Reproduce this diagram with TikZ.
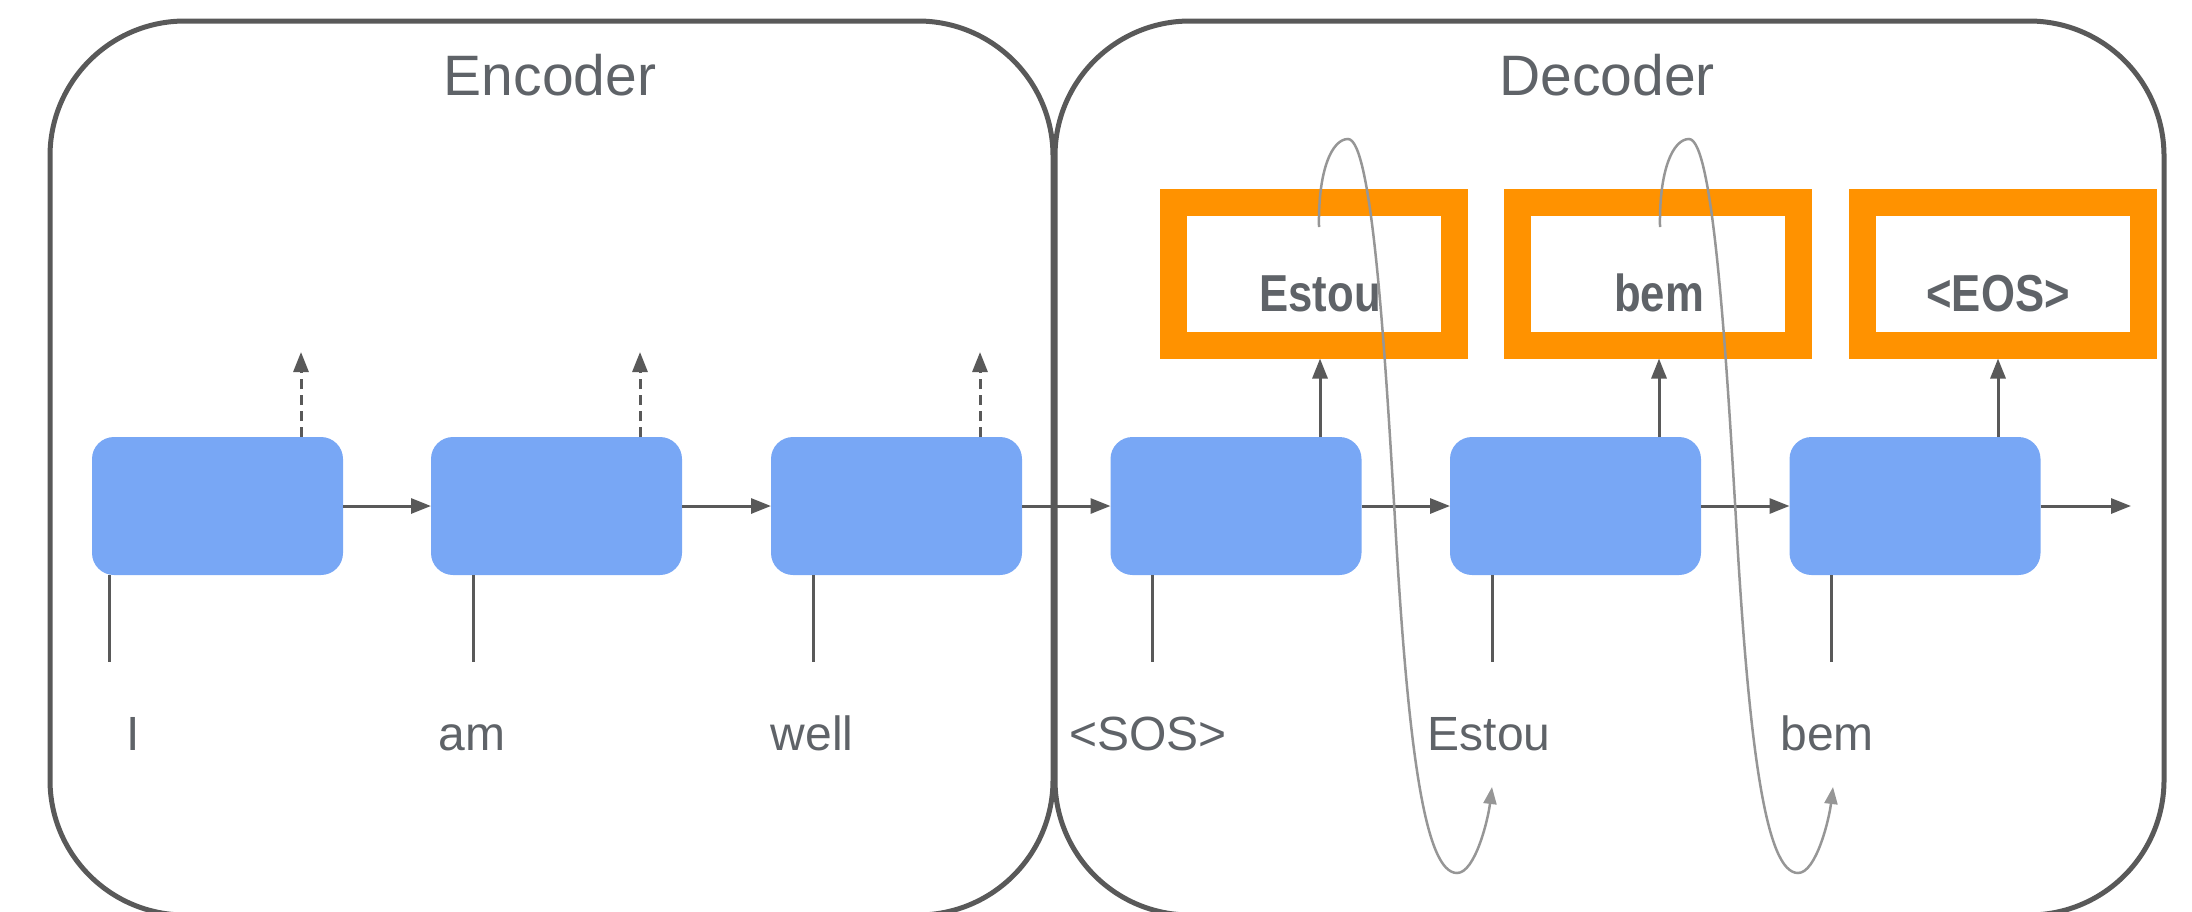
\documentclass[tikz,border=0pt]{standalone}
\usepackage{fontspec}
\setmainfont{Liberation Sans}
\newfontfamily\narrowbold{Liberation Sans}[FakeStretch=0.84]
\usetikzlibrary{arrows.meta}
\definecolor{txt}{HTML}{5F6368}
\definecolor{edge}{HTML}{595959}
\definecolor{cell}{HTML}{78A7F5}
\definecolor{orng}{HTML}{FF9200}
\definecolor{loopc}{HTML}{969696}
\begin{document}
\begin{tikzpicture}[x=1pt,y=-1pt,
  frame/.style={draw=edge, line width=5pt, rounded corners=135pt, inner sep=0pt},
  cellbox/.style={fill=cell, rounded corners=22pt, minimum width=251pt, minimum height=138pt, inner sep=0pt, outer sep=0pt},
  outbox/.style={draw=orng, line width=27pt, minimum width=281pt, minimum height=142.5pt, inner sep=0pt, outer sep=13.5pt},
  arr/.style={draw=edge, line width=3pt, -{Triangle[length=20pt,width=15pt]}},
  dasharr/.style={arr, dash pattern=on 10pt off 6pt},
  inln/.style={draw=edge, line width=3pt},
  loopline/.style={draw=loopc, line width=2.5pt, -{Triangle[length=17pt,width=13pt]}},
  hdr/.style={text=txt, font=\fontsize{57}{60}\selectfont, inner sep=0pt, anchor=base},
  lbl/.style={text=txt, font=\fontsize{48}{52}\selectfont, inner sep=0pt, anchor=base},
  blbl/.style={text=txt, font=\narrowbold\bfseries\fontsize{52}{56}\selectfont, inner sep=0pt, anchor=base}
]
\useasboundingbox (0,0) rectangle (2192,911);

% containers
\node[frame, minimum width=1003pt, minimum height=894pt] (enc) at (551.5,468) {};
\node[frame, minimum width=1109pt, minimum height=894pt] (dec) at (1609.5,468) {};
\node[hdr] (enct) at (550,95) {Encoder};
\node[hdr] (dect) at (1607,95) {Decoder};

% cells
\node[cellbox] (e1) at (217.5,506) {};
\node[cellbox] (e2) at (556.5,506) {};
\node[cellbox] (e3) at (896.5,506) {};
\node[cellbox] (d1) at (1236,506) {};
\node[cellbox] (d2) at (1575.5,506) {};
\node[cellbox] (d3) at (1915,506) {};

% recurrent arrows
\coordinate (out) at (2131,506);
\draw[arr] (e1.east) -- (e2.west);
\draw[arr] (e2.east) -- (e3.west);
\draw[arr] (e3.east) -- (d1.west);
\draw[arr] (d1.east) -- (d2.west);
\draw[arr] (d2.east) -- (d3.west);
\draw[arr] (d3.east) -- (out);

% encoder dashed outputs
\coordinate (h1) at (301,352);
\coordinate (h2) at (640,352);
\coordinate (h3) at (980,352);
\draw[dasharr] (e1.north -| h1) -- (h1);
\draw[dasharr] (e2.north -| h2) -- (h2);
\draw[dasharr] (e3.north -| h3) -- (h3);

% decoder outputs
\node[outbox] (o1) at (1314,273.75) {};
\node[outbox] (o2) at (1658,273.75) {};
\node[outbox] (o3) at (2002.5,273.75) {};
\node[blbl] (t1) at (1320,311) {Estou};
\node[blbl] (t2) at (1659,311) {bem};
\node[blbl] (t3) at (1998,311) {<EOS>};
\draw[arr] (d1.north -| t1) -- (o1.south -| t1);
\draw[arr] (d2.north -| t2) -- (o2.south -| t2);
\draw[arr] (d3.north -| t3) -- (o3.south -| t3);

% inputs
\coordinate (i1) at (109,662);
\coordinate (i2) at (473.5,662);
\coordinate (i3) at (813,662);
\coordinate (i4) at (1152,662);
\coordinate (i5) at (1492,662);
\coordinate (i6) at (1831,662);
\draw[inln] (e1.south -| i1) -- (i1);
\draw[inln] (e2.south -| i2) -- (i2);
\draw[inln] (e3.south -| i3) -- (i3);
\draw[inln] (d1.south -| i4) -- (i4);
\draw[inln] (d2.south -| i5) -- (i5);
\draw[inln] (d3.south -| i6) -- (i6);
\node[lbl] (w1) at (133,750) {I};
\node[lbl] (w2) at (472,750) {am};
\node[lbl] (w3) at (812,750) {well};
\node[lbl] (w4) at (1148,750) {<SOS>};
\node[lbl] (w5) at (1489,750) {Estou};
\node[lbl] (w6) at (1827,750) {bem};

% feedback loops
\coordinate (c1s) at (1319,227);
\coordinate (c1e) at (1492,787);
\coordinate (c2s) at (1660,227);
\coordinate (c2e) at (1833,787);
\draw[loopline] (c1s) .. controls (1318,170) and (1332,139) .. (1348,139)
  .. controls (1372,139) and (1385,350) .. (1395,520)
  .. controls (1408,750) and (1425,873) .. (1457,873)
  .. controls (1475,873) and (1488,820) .. (c1e);
\draw[loopline] (c2s) .. controls (1659,170) and (1673,139) .. (1689,139)
  .. controls (1713,139) and (1726,350) .. (1736,520)
  .. controls (1749,750) and (1766,873) .. (1798,873)
  .. controls (1816,873) and (1829,820) .. (c2e);
\end{tikzpicture}
\end{document}
